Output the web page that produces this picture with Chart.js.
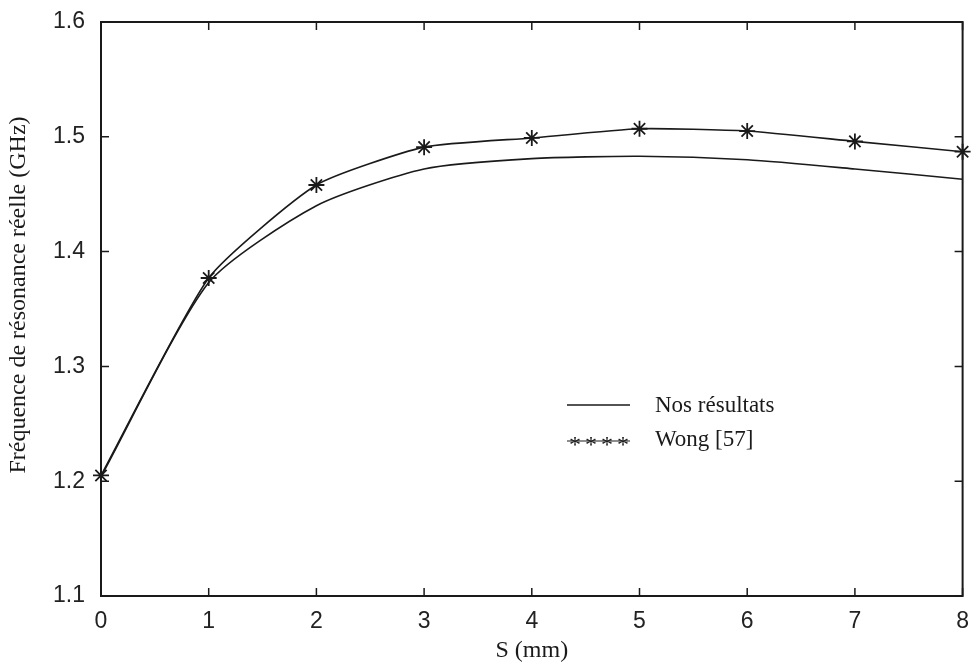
<!DOCTYPE html>
<html>
<head>
<meta charset="utf-8">
<script src="https://cdn.jsdelivr.net/npm/chart.js@4/dist/chart.umd.min.js"></script>
<style>
  html, body { margin: 0; padding: 0; background: #fff; }
  canvas { display: block; }
</style>
</head>
<body>
<canvas id="c" width="973" height="671"></canvas>
<script>
// ---- data ----
const sValues = [0, 1, 2, 3, 4, 5, 6, 7, 8];
const nosResultats = [1.204, 1.373, 1.440, 1.472, 1.481, 1.483, 1.480, 1.472, 1.463];
const wong = [1.205, 1.377, 1.458, 1.491, 1.499, 1.507, 1.505, 1.496, 1.487];
const xTicks = [0, 1, 2, 3, 4, 5, 6, 7, 8];
const yTicks = [1.1, 1.2, 1.3, 1.4, 1.5, 1.6];
const seriesNames = ['Nos résultats', 'Wong [57]'];
const xTitle = 'S (mm)';
const yTitle = 'Fréquence de résonance réelle (GHz)';

const INK = '#1a1a1a';
const tickFont = { family: '"Liberation Sans", Arial, sans-serif', size: 23 };
const serifFont = { family: '"Liberation Serif", "Times New Roman", serif', size: 24 };

const framePlugin = {
  id: 'frame',
  afterDatasetsDraw(chart) {
    const { ctx, chartArea: a, scales } = chart;
    ctx.save();
    ctx.strokeStyle = INK;
    ctx.lineWidth = 2;
    ctx.strokeRect(a.left, a.top, a.right - a.left, a.bottom - a.top);
    ctx.lineWidth = 1.5;
    const L = 8;
    ctx.beginPath();
    xTicks.forEach(v => {
      const px = scales.x.getPixelForValue(v);
      ctx.moveTo(px, a.bottom); ctx.lineTo(px, a.bottom - L);
      ctx.moveTo(px, a.top); ctx.lineTo(px, a.top + L);
    });
    yTicks.forEach(v => {
      const py = scales.y.getPixelForValue(v);
      ctx.moveTo(a.left, py); ctx.lineTo(a.left + L, py);
      ctx.moveTo(a.right, py); ctx.lineTo(a.right - L, py);
    });
    ctx.stroke();
    ctx.restore();
  },
  afterDraw(chart) {
    const { ctx } = chart;
    ctx.save();
    ctx.strokeStyle = INK;
    ctx.fillStyle = INK;
    // y axis title
    ctx.save();
    ctx.translate(19, 295);
    ctx.rotate(-Math.PI / 2);
    ctx.font = '24px "Liberation Serif", "Times New Roman", serif';
    ctx.textAlign = 'center';
    ctx.textBaseline = 'middle';
    ctx.fillText(yTitle, 0, 0);
    ctx.restore();
    // legend row 1
    ctx.lineWidth = 1.6;
    ctx.beginPath();
    ctx.moveTo(567, 405); ctx.lineTo(630, 405);
    ctx.stroke();
    ctx.font = '23px "Liberation Serif", "Times New Roman", serif';
    ctx.textBaseline = 'middle';
    ctx.textAlign = 'left';
    ctx.fillText(seriesNames[0], 655, 406);
    ctx.fillText(seriesNames[1], 655, 440);
    // legend row 2
    ctx.lineWidth = 1;
    ctx.beginPath();
    ctx.moveTo(567, 441); ctx.lineTo(630, 441);
    ctx.stroke();
    ctx.font = '24px "Liberation Serif", "Times New Roman", serif';
    ctx.textAlign = 'center';
    [575, 591, 607, 623].forEach(x => ctx.fillText('*', x, 446));
    ctx.restore();
  }
};

new Chart(document.getElementById('c'), {
  type: 'line',
  data: {
    datasets: [
      {
        label: seriesNames[0],
        data: sValues.map((s, i) => ({ x: s, y: nosResultats[i] })),
        borderColor: INK,
        borderWidth: 1.6,
        pointRadius: 0,
        tension: 0.22,
        fill: false,
        clip: false
      },
      {
        label: seriesNames[1],
        data: sValues.map((s, i) => ({ x: s, y: wong[i] })),
        borderColor: INK,
        backgroundColor: INK,
        borderWidth: 1.6,
        pointStyle: 'star',
        pointRadius: 8,
        pointBorderWidth: 1.8,
        pointBorderColor: INK,
        tension: 0.18,
        fill: false,
        clip: false
      }
    ]
  },
  options: {
    responsive: false,
    animation: false,
    layout: { padding: { left: 0, top: 22, right: 10, bottom: 0 } },
    plugins: {
      legend: { display: false },
      tooltip: { enabled: false }
    },
    scales: {
      x: {
        type: 'linear',
        min: 0, max: 8,
        grid: { display: false },
        border: { display: false },
        ticks: {
          stepSize: 1,
          color: '#222',
          font: tickFont,
          padding: 4
        },
        afterBuildTicks(scale) { scale.ticks = xTicks.map(v => ({ value: v })); },
        afterFit(scale) { scale.height = 75; },
        title: {
          display: true,
          text: xTitle,
          color: INK,
          font: serifFont,
          padding: { top: 0, bottom: 6 }
        }
      },
      y: {
        min: 1.1, max: 1.6,
        grid: { display: false },
        border: { display: false },
        ticks: {
          color: '#222',
          font: tickFont,
          padding: 8,
          callback: v => Number(v).toFixed(1)
        },
        afterBuildTicks(scale) { scale.ticks = yTicks.map(v => ({ value: v })); },
        afterFit(scale) { scale.width = 101; },
        title: { display: false }
      }
    }
  },
  plugins: [framePlugin]
});
</script>
</body>
</html>
